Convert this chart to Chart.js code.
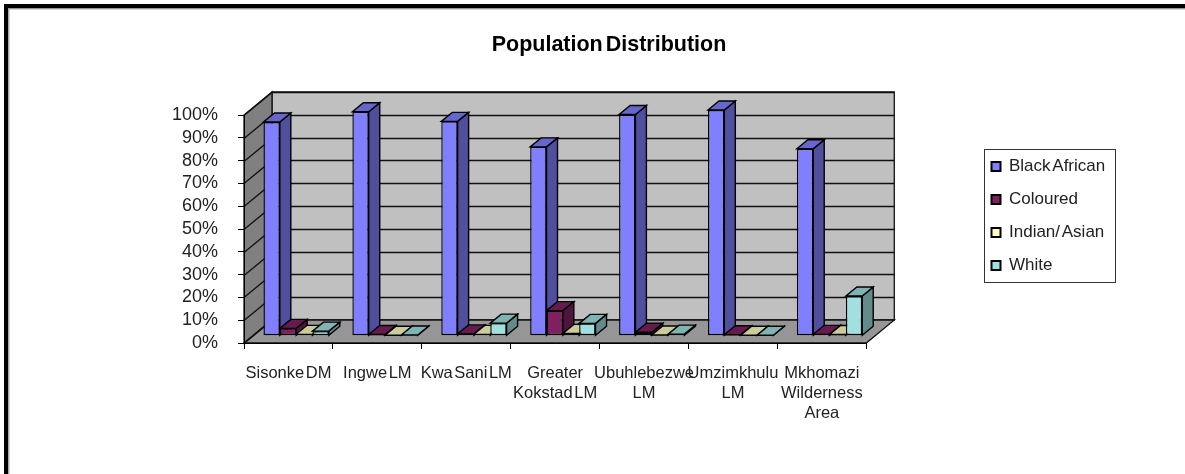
<!DOCTYPE html>
<html>
<head>
<meta charset="utf-8">
<style>
html,body{margin:0;padding:0;background:#fff;overflow:hidden}
#wrap{position:absolute;left:0;top:0;width:1185px;height:474px}
#c{filter:blur(0.4px)}
</style>
<script src="https://cdn.jsdelivr.net/npm/chart.js@4/dist/chart.umd.min.js"></script>
</head>
<body>
<div id="wrap"><canvas id="c" width="1185" height="474"></canvas></div>
<script>
const chartTitle = 'Population Distribution';
const categories = [
  'Sisonke DM', 'Ingwe LM', 'Kwa Sani LM', ['Greater', 'Kokstad LM'],
  ['Ubuhlebezwe', 'LM'], ['Umzimkhulu', 'LM'], ['Mkhomazi', 'Wilderness', 'Area']
];
const blackAfrican = [93.7, 98.2, 94, 82.8, 97, 99, 82];
const coloured     = [3.2, 0.5, 0.8, 11, 1.5, 0.4, 0.6];
const indianAsian  = [0.6, 0.2, 0.6, 1, 0.3, 0.2, 0.5];
const white        = [2, 0.3, 5.5, 5.4, 0.7, 0.2, 17.4];
const seriesNames  = ['Black African', 'Coloured', 'Indian/ Asian', 'White'];
const seriesColors = ['#8080FF', '#802060', '#FFFFC0', '#A0E0E0'];
const seriesValues = [blackAfrican, coloured, indianAsian, white];
const yTicks = [0, 10, 20, 30, 40, 50, 60, 70, 80, 90, 100];

const FONT = '"Liberation Sans", Arial, sans-serif';
const WALL_DX = 28, WALL_DY = 23;      // depth of the chart box
const BAR_OX = 7.7, BAR_OY = 7.3;      // bars stand inside the box
const BAR_DX = 11, BAR_DY = 9;         // depth of each bar

function shade(hex, k) {
  const n = parseInt(hex.slice(1), 16);
  const c = s => Math.round(((n >> s) & 255) * k);
  return `rgb(${c(16)},${c(8)},${c(0)})`;
}
function poly(ctx, pts, fill, stroke, lw) {
  ctx.beginPath();
  pts.forEach((p, i) => i ? ctx.lineTo(p[0], p[1]) : ctx.moveTo(p[0], p[1]));
  ctx.closePath();
  if (fill) { ctx.fillStyle = fill; ctx.fill(); }
  if (stroke) { ctx.strokeStyle = stroke; ctx.lineWidth = lw || 1; ctx.stroke(); }
}

const box3d = {
  id: 'box3d',
  afterLayout(chart) {
    const lg = chart.legend;
    const w = lg.width, h = lg.height;
    lg.left = 975.5; lg.right = lg.left + w;
    lg.top = 142; lg.bottom = lg.top + h;
    if (chart.titleBlock) { chart.titleBlock.left = 33; chart.titleBlock.right = 1185; }
  },
  beforeDraw(chart) {
    const ctx = chart.ctx, x = chart.scales.x, y = chart.scales.y;
    ctx.wordSpacing = '-3px';
    ctx.save();
    // page frame
    ctx.fillStyle = '#000';
    ctx.fillRect(4, 4, 1181, 4.5);
    ctx.fillRect(4, 4, 4, 470);
    ctx.fillStyle = '#aaa';
    ctx.fillRect(8, 8.5, 1177, 1);
    ctx.fillRect(8, 8.5, 1.5, 465.5);
    const L = x.left, R = x.right, T = y.getPixelForValue(100), B = y.getPixelForValue(0);
    const dx = WALL_DX, dy = WALL_DY;
    // back wall, left wall, floor
    poly(ctx, [[L+dx,T-dy],[R+dx,T-dy],[R+dx,B-dy],[L+dx,B-dy]], '#C0C0C0', '#111', 1.3);
    poly(ctx, [[L,T],[L+dx,T-dy],[L+dx,B-dy],[L,B]], '#808080', '#111', 1.3);
    poly(ctx, [[L,B],[R,B],[R+dx,B-dy],[L+dx,B-dy]], '#969696', '#111', 1.3);
    // gridlines
    ctx.strokeStyle = '#111'; ctx.lineWidth = 1.3;
    yTicks.forEach(t => {
      const py = Math.round(y.getPixelForValue(t)) + 0.5;
      ctx.beginPath();
      ctx.moveTo(L, py); ctx.lineTo(L+dx, py-dy);
      if (t > 0) ctx.lineTo(R+dx, py-dy);
      ctx.stroke();
    });
    // legend frame
    ctx.strokeStyle = '#333'; ctx.lineWidth = 1;
    ctx.fillStyle = '#fff';
    ctx.fillRect(984.5, 149.5, 131, 133);
    ctx.strokeRect(984.5, 149.5, 131, 133);
    ctx.restore();
  },
  beforeDatasetsDraw(chart) {
    // depth faces, left to right, before the library draws the front faces
    const ctx = chart.ctx;
    ctx.save();
    ctx.translate(BAR_OX, -BAR_OY);
    chart.data.datasets.forEach((ds, i) => {
      const color = ds.backgroundColor;
      chart.getDatasetMeta(i).data.forEach(el => {
        const l = el.x - el.width / 2, r = el.x + el.width / 2, t = el.y, b = el.base;
        poly(ctx, [[r,t],[r,b],[r+BAR_DX,b-BAR_DY],[r+BAR_DX,t-BAR_DY]], shade(color, .62), '#000', 1.4);
        poly(ctx, [[l,t],[r,t],[r+BAR_DX,t-BAR_DY],[l+BAR_DX,t-BAR_DY]], shade(color, .8), '#000', 1.4);
      });
    });
    ctx.restore();
  },
  beforeDatasetDraw(chart) {
    chart.ctx.save();
    chart.ctx.translate(BAR_OX, -BAR_OY);
  },
  afterDatasetDraw(chart) { chart.ctx.restore(); }
};

new Chart(document.getElementById('c'), {
  type: 'bar',
  plugins: [box3d],
  data: {
    labels: categories,
    datasets: seriesNames.map((name, i) => ({
      label: name,
      data: seriesValues[i],
      backgroundColor: seriesColors[i],
      borderColor: '#000',
      borderWidth: 1.4,
      borderSkipped: false,
      clip: false,
      categoryPercentage: 0.735,
      barPercentage: 1
    }))
  },
  options: {
    responsive: false,
    animation: false,
    events: [],
    layout: { padding: { left: 0, top: 0, bottom: 0, right: 176 } },
    plugins: {
      tooltip: { enabled: false },
      title: {
        display: true,
        text: chartTitle,
        color: '#000',
        font: { family: FONT, size: 21.5, weight: 'bold', lineHeight: 1.2 },
        padding: { top: 32, bottom: 57.2 }
      },
      legend: {
        display: true,
        position: 'right',
        align: 'start',
        labels: {
          boxWidth: 9,
          boxHeight: 9,
          padding: 16,
          color: '#222',
          font: { family: FONT, size: 17 },
          generateLabels(chart) {
            return Chart.defaults.plugins.legend.labels.generateLabels(chart)
              .map(it => Object.assign(it, { lineWidth: 2, strokeStyle: '#000' }));
          }
        }
      }
    },
    scales: {
      x: {
        type: 'category',
        afterFit(s) { s.height = 131; },
        border: { display: true, color: '#000', width: 1 },
        grid: { display: true, offset: true, drawOnChartArea: false, drawTicks: true, tickLength: 6, color: '#000' },
        ticks: {
          autoSkip: false, maxRotation: 0, minRotation: 0,
          color: '#222', padding: 14,
          font: { family: FONT, size: 16.5, lineHeight: 1.23 }
        }
      },
      y: {
        type: 'linear',
        min: 0, max: 100,
        afterFit(s) { s.width = 244; },
        afterBuildTicks(s) { s.ticks = yTicks.map(v => ({ value: v })); },
        border: { display: true, color: '#000', width: 1 },
        grid: { display: true, drawOnChartArea: false, drawTicks: true, tickLength: 6, color: '#000' },
        ticks: {
          autoSkip: false,
          color: '#222', padding: 20,
          font: { family: FONT, size: 18 },
          callback: v => v + '%'
        }
      }
    }
  }
});
</script>
</body>
</html>
